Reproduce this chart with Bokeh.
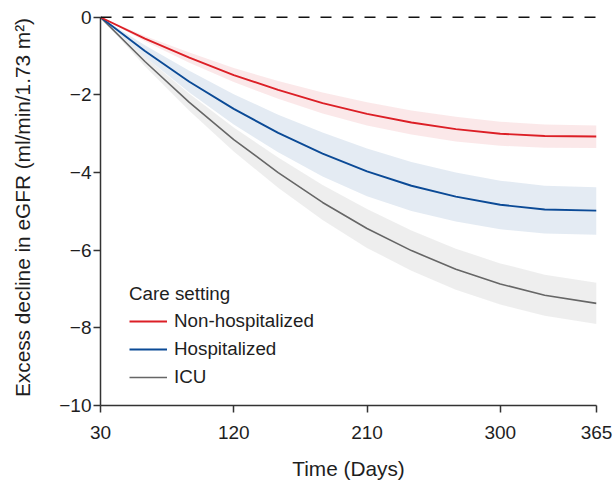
from bokeh.plotting import figure
from bokeh.models import Span, Legend, LegendItem, FixedTicker
from bokeh.embed import file_html
from bokeh.resources import INLINE

# ---- data ----
DAYS = [30, 60, 90, 120, 150, 180, 210, 240, 270, 300, 330, 365]

NONHOSP = [0, -0.55, -1.04, -1.49, -1.87, -2.21, -2.49, -2.71, -2.88, -3.00, -3.06, -3.07]
NONHOSP_LO = [0, -0.62, -1.17, -1.67, -2.10, -2.48, -2.79, -3.02, -3.20, -3.31, -3.36, -3.37]
NONHOSP_HI = [0, -0.48, -0.91, -1.31, -1.64, -1.94, -2.19, -2.40, -2.56, -2.69, -2.76, -2.79]

HOSP = [0, -0.87, -1.66, -2.36, -2.98, -3.51, -3.97, -4.34, -4.62, -4.83, -4.95, -4.98]
HOSP_LO = [0, -1.02, -1.94, -2.76, -3.48, -4.10, -4.61, -4.99, -5.26, -5.46, -5.57, -5.60]
HOSP_HI = [0, -0.72, -1.38, -1.98, -2.51, -2.97, -3.38, -3.73, -4.00, -4.21, -4.34, -4.38]

ICU = [0, -1.14, -2.19, -3.15, -4.00, -4.77, -5.44, -6.01, -6.49, -6.87, -7.16, -7.37]
ICU_LO = [0, -1.26, -2.41, -3.46, -4.39, -5.22, -5.94, -6.53, -7.02, -7.40, -7.69, -7.90]
ICU_HI = [0, -1.02, -1.97, -2.84, -3.61, -4.32, -4.94, -5.49, -5.96, -6.34, -6.63, -6.84]

SERIES_LABELS = ["Non-hospitalized", "Hospitalized", "ICU"]
X_TICKS = [30, 120, 210, 300, 365]
Y_TICKS = [0, -2, -4, -6, -8, -10]
Y_TICK_LABELS = ["0", "\u22122", "\u22124", "\u22126", "\u22128", "\u221210"]

RED = "#DC1F26"
BLUE = "#0B4A96"
GREY = "#666666"
FONT = "Liberation Sans"
TXT = "#1e1e1e"
AX = "#333333"

p = figure(width=613, height=482, x_range=(30, 365), y_range=(-10, 0.2),
           output_backend="svg", toolbar_location=None,
           min_border_left=100, min_border_right=17, min_border_top=9,
           min_border_bottom=10)
p.outline_line_color = None
p.xgrid.grid_line_color = None
p.ygrid.grid_line_color = None
p.background_fill_color = "white"

# reference line at zero
p.add_layout(Span(location=0, dimension="width", line_color="#111111",
                  line_width=1.3, line_dash="11 11"))

# confidence bands
p.varea(x=DAYS, y1=ICU_LO, y2=ICU_HI, fill_color=GREY, fill_alpha=0.11)
p.varea(x=DAYS, y1=HOSP_LO, y2=HOSP_HI, fill_color=BLUE, fill_alpha=0.11)
p.varea(x=DAYS, y1=NONHOSP_LO, y2=NONHOSP_HI, fill_color=RED, fill_alpha=0.10)

# lines
r_icu = p.line(DAYS, ICU, line_color=GREY, line_width=1.6)
r_hosp = p.line(DAYS, HOSP, line_color=BLUE, line_width=1.9)
r_non = p.line(DAYS, NONHOSP, line_color=RED, line_width=1.9)

legend = Legend(items=[LegendItem(label=SERIES_LABELS[0], renderers=[r_non]),
                       LegendItem(label=SERIES_LABELS[1], renderers=[r_hosp]),
                       LegendItem(label=SERIES_LABELS[2], renderers=[r_icu])],
                location=(29, 17), title="Care setting",
                padding=0, margin=0, spacing=6,
                label_height=22, glyph_height=22, glyph_width=38,
                label_standoff=7, border_line_color=None,
                background_fill_alpha=0,
                label_text_font=FONT, label_text_font_size="18.8px",
                label_text_color=TXT,
                title_text_font=FONT, title_text_font_size="18.8px",
                title_text_font_style="normal", title_text_color=TXT,
                title_standoff=5)
p.add_layout(legend, "center")

# axes
for ax in (p.xaxis[0], p.yaxis[0]):
    ax.axis_line_color = AX
    ax.axis_line_width = 1.5
    ax.major_tick_line_color = AX
    ax.major_tick_line_width = 1.5
    ax.major_tick_out = 7
    ax.major_tick_in = 0
    ax.minor_tick_out = 0
    ax.minor_tick_in = 0
    ax.major_label_text_font = FONT
    ax.major_label_text_font_size = "19px"
    ax.major_label_text_color = TXT
    ax.axis_label_text_font = FONT
    ax.axis_label_text_font_size = "20.8px"
    ax.axis_label_text_font_style = "normal"
    ax.axis_label_text_color = TXT

p.xaxis.ticker = FixedTicker(ticks=X_TICKS)
p.xaxis.bounds = (30, 365)
p.xaxis.axis_label = "Time (Days)"
p.xaxis.major_label_standoff = 13
p.xaxis.axis_label_standoff = 15

p.yaxis.ticker = FixedTicker(ticks=Y_TICKS)
p.yaxis.bounds = (-10, 0)
p.yaxis.major_label_overrides = {t: l for t, l in zip(Y_TICKS, Y_TICK_LABELS)}
p.yaxis.axis_label = "Excess decline in eGFR (ml/min/1.73 m\u00b2)"
p.yaxis.major_label_standoff = 2
p.yaxis.axis_label_standoff = 22

open("out.html", "w").write(file_html(p, INLINE))
